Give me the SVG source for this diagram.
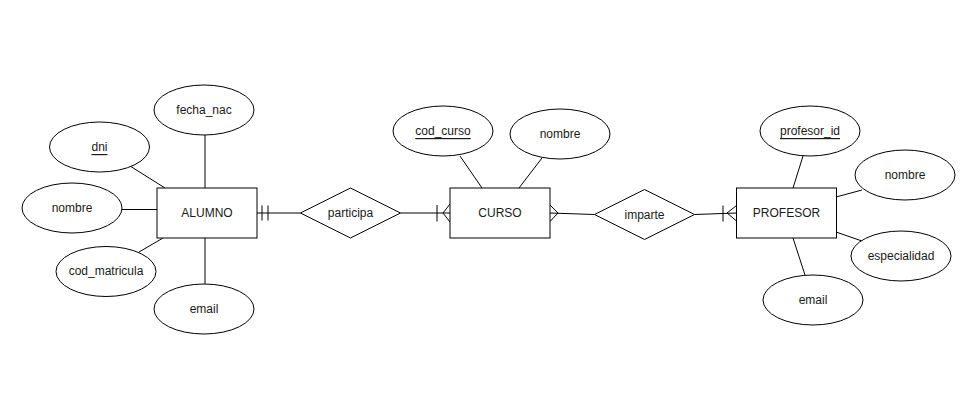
<svg xmlns="http://www.w3.org/2000/svg" width="980" height="412" viewBox="0 0 980 412">
  <style>
    .shape { fill: #ffffff; stroke: #000000; stroke-width: 1; }
    .link { fill: none; stroke: #000000; stroke-width: 1; }
    .lbl { font-family: "Liberation Sans", Arial, sans-serif; font-size: 12px; fill: #1a1a1a; text-anchor: middle; dominant-baseline: central; }
    .key { text-decoration: underline; }
  </style>
  <rect width="980" height="412" fill="#ffffff"/>

  <!-- connectors: attribute links and relationship lines with ER end symbols -->
  <g id="connectors">
    <!-- ALUMNO attributes -->
    <path class="link" d="M205 135 L205 188"/>
    <path class="link" d="M130 166 L165 188"/>
    <path class="link" d="M122 209.5 L157 209.5"/>
    <path class="link" d="M139 252 L163 238"/>
    <path class="link" d="M205 238 L205 284"/>
    <!-- CURSO attributes -->
    <path class="link" d="M460 156 L482 188"/>
    <path class="link" d="M542 158 L519 188"/>
    <!-- PROFESOR attributes -->
    <path class="link" d="M803 156 L793 188"/>
    <path class="link" d="M836 197 L862 190"/>
    <path class="link" d="M836 232 L862 241"/>
    <path class="link" d="M793 238 L805 275"/>

    <!-- ALUMNO (mandatory one) — participa -->
    <path class="link" d="M257 213 L300.5 213"/>
    <path class="link" d="M262 205.5 L262 220.5 M268 205.5 L268 220.5"/>
    <!-- participa — CURSO (one to many) -->
    <path class="link" d="M400.5 213 L450 213"/>
    <path class="link" d="M437 205 L437 221.5"/>
    <path class="link" d="M450 204 L443 213 L450 222"/>
    <!-- CURSO (many) — imparte -->
    <path class="link" d="M550 213 L594.5 214.5"/>
    <path class="link" d="M550 205 L558 213 L550 221.5"/>
    <!-- imparte — PROFESOR (one to many) -->
    <path class="link" d="M694.5 214.5 L736.5 213"/>
    <path class="link" d="M723 205.5 L723 221.5"/>
    <path class="link" d="M736.5 205.5 L727 213 L736.5 221"/>
  </g>

  <!-- entities -->
  <g id="alumno">
    <rect class="shape" x="157" y="188" width="100" height="50"/>
    <text class="lbl" x="207" y="213">ALUMNO</text>
  </g>
  <g id="curso">
    <rect class="shape" x="450" y="188" width="100" height="50"/>
    <text class="lbl" x="500" y="213">CURSO</text>
  </g>
  <g id="profesor">
    <rect class="shape" x="736.5" y="188" width="100" height="50"/>
    <text class="lbl" x="786.5" y="213">PROFESOR</text>
  </g>

  <!-- relationships -->
  <g id="participa">
    <polygon class="shape" points="300.5,213 350.5,188 400.5,213 350.5,238"/>
    <text class="lbl" x="350.5" y="213">participa</text>
  </g>
  <g id="imparte">
    <polygon class="shape" points="594.5,214.5 644.5,189.5 694.5,214.5 644.5,239.5"/>
    <text class="lbl" x="644.5" y="214.5">imparte</text>
  </g>

  <!-- ALUMNO attributes -->
  <g id="alumno-fecha_nac">
    <ellipse class="shape" cx="204" cy="110" rx="50" ry="25"/>
    <text class="lbl" x="204" y="110">fecha_nac</text>
  </g>
  <g id="alumno-dni">
    <ellipse class="shape" cx="99.5" cy="147" rx="50" ry="25"/>
    <text class="lbl key" x="99.5" y="147">dni</text>
  </g>
  <g id="alumno-nombre">
    <ellipse class="shape" cx="72" cy="208" rx="50" ry="25"/>
    <text class="lbl" x="72" y="208">nombre</text>
  </g>
  <g id="alumno-cod_matricula">
    <ellipse class="shape" cx="106" cy="271.5" rx="50" ry="25"/>
    <text class="lbl" x="106" y="271">cod_matricula</text>
  </g>
  <g id="alumno-email">
    <ellipse class="shape" cx="204" cy="309" rx="50" ry="25"/>
    <text class="lbl" x="204" y="309">email</text>
  </g>

  <!-- CURSO attributes -->
  <g id="curso-cod_curso">
    <ellipse class="shape" cx="443" cy="131" rx="50" ry="25"/>
    <text class="lbl key" x="443" y="131">cod_curso</text>
  </g>
  <g id="curso-nombre">
    <ellipse class="shape" cx="560" cy="134" rx="50" ry="25"/>
    <text class="lbl" x="560" y="134">nombre</text>
  </g>

  <!-- PROFESOR attributes -->
  <g id="profesor-profesor_id">
    <ellipse class="shape" cx="810" cy="131" rx="50" ry="25"/>
    <text class="lbl key" x="810" y="131">profesor_id</text>
  </g>
  <g id="profesor-nombre">
    <ellipse class="shape" cx="905" cy="175" rx="50" ry="25"/>
    <text class="lbl" x="905" y="175">nombre</text>
  </g>
  <g id="profesor-especialidad">
    <ellipse class="shape" cx="901" cy="256" rx="50" ry="25"/>
    <text class="lbl" x="901" y="256">especialidad</text>
  </g>
  <g id="profesor-email">
    <ellipse class="shape" cx="813" cy="300" rx="50" ry="25"/>
    <text class="lbl" x="813" y="300">email</text>
  </g>
</svg>
